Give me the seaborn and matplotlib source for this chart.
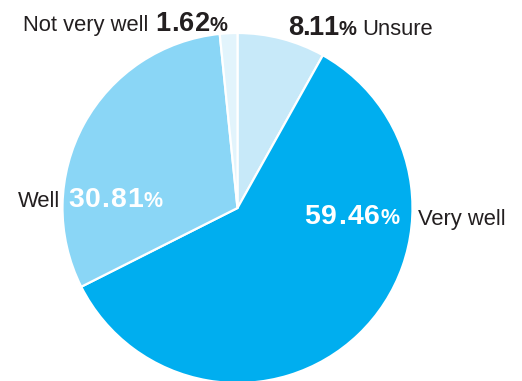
import matplotlib
matplotlib.use("Agg")
import matplotlib.pyplot as plt
from matplotlib.font_manager import FontProperties, findfont, get_font
from matplotlib import ft2font
import seaborn as sns

# Survey responses, clockwise from 12 o'clock
categories = ["Unsure", "Very well", "Well", "Not very well"]
shares = [8.11, 59.46, 30.81, 1.62]
slice_colors = ["#c7e9f9", "#00aeef", "#8ad6f6", "#e2f4fc"]

sns.set_theme(style="white")
plt.rcParams["font.family"] = ["Liberation Sans", "DejaVu Sans"]

W, H = 522, 381
DPI = 100
fig = plt.figure(figsize=(W / DPI, H / DPI), dpi=DPI)
ax = fig.add_axes([0, 0, 1, 1])

palette = sns.color_palette(slice_colors)
ax.pie(
    shares,
    colors=palette,
    startangle=90,
    counterclock=False,
    center=(237.5, H - 208),
    radius=175,
    wedgeprops=dict(edgecolor="white", linewidth=1.6),
    frame=False,
)
ax.set_xlim(0, W)
ax.set_ylim(0, H)
ax.set_aspect("equal")
ax.axis("off")

dark = "#231f20"
label_size = 15.8

bold_font = get_font(findfont(FontProperties(family="Liberation Sans", weight="bold")))
try:
    NO_HINT = ft2font.LoadFlags.NO_HINTING
except AttributeError:
    NO_HINT = ft2font.LOAD_NO_HINTING


def glyph_advance(ch, size):
    """Horizontal advance of one bold glyph, in pixels."""
    bold_font.set_size(size, DPI)
    g = bold_font.load_char(ord(ch), flags=NO_HINT)
    return g.linearHoriAdvance / 65536


def value_text(x, y_px, value, color, size, tracking, pct_size):
    """Bold number with letter spacing, followed by a smaller bold %."""
    cx = x
    for ch in f"{value:.2f}":
        ax.text(cx, H - y_px, ch, fontsize=size, fontweight="bold",
                color=color, ha="left", va="baseline")
        cx += glyph_advance(ch, size) + tracking
    ax.text(cx - tracking, H - y_px, "%", fontsize=pct_size, fontweight="bold",
            color=color, ha="left", va="baseline")


def label_text(x, y_px, s):
    ax.text(x, H - y_px, s, fontsize=label_size, color=dark, ha="left", va="baseline")


# Unsure
value_text(288, 35, shares[0], dark, 19.6, -1.0, 14.5)
label_text(362, 35, categories[0])

# Very well
value_text(304, 224, shares[1], "white", 20.4, 1.3, 15.5)
label_text(418, 225, categories[1])

# Well
label_text(18, 207, categories[2])
value_text(68, 207, shares[2], "white", 20.4, 1.0, 15.5)

# Not very well
label_text(23, 31, categories[3])
value_text(155, 31, shares[3], dark, 19.6, 0.6, 14.5)

fig.savefig("out.png", dpi=DPI)
